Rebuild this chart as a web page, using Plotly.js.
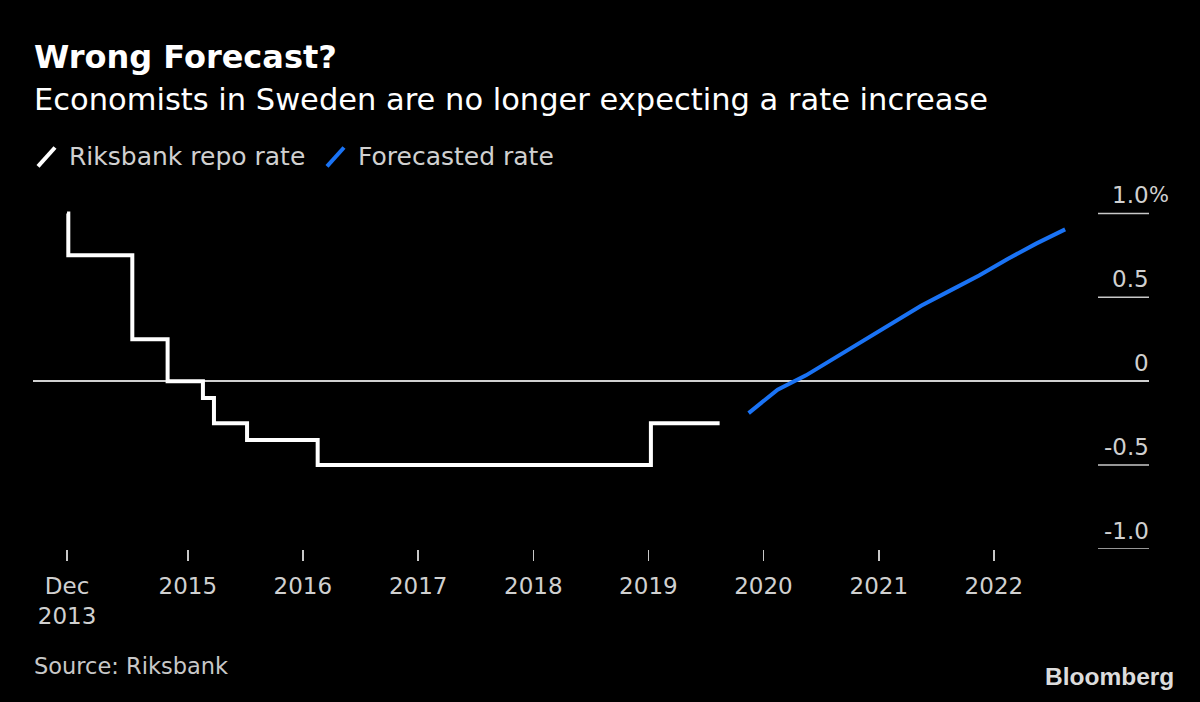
<!DOCTYPE html>
<html><head><meta charset="utf-8">
<script src="https://cdn.plot.ly/plotly-3.0.1.min.js"></script>
<style>html,body{margin:0;padding:0;background:#000;}</style>
</head><body><div id="chart" style="width:1200px;height:702px;"></div>
<script>
// ---- data ----
const repoDates = ['2013-12-14','2013-12-18','2014-07-09','2014-10-29','2015-02-18','2015-03-25','2015-07-08','2016-02-17','2019-01-09','2019-08-15'];
const repoRates = [1.0, 0.75, 0.25, 0.0, -0.10, -0.25, -0.35, -0.50, -0.25, -0.25];
const forecastDates = ['2019-11-15','2020-02-15','2020-05-15','2020-08-15','2020-11-15','2021-02-15','2021-05-15','2021-08-15','2021-11-15','2022-02-15','2022-05-15','2022-08-15'];
const forecastRates = [-0.19, -0.05, 0.035, 0.14, 0.245, 0.35, 0.45, 0.54, 0.63, 0.73, 0.82, 0.905];
const xTickVals = ['2013-12-14','2015-01-01','2016-01-01','2017-01-01','2018-01-01','2019-01-01','2020-01-01','2021-01-01','2022-01-01'];
const xTickText = ['Dec<br>2013','2015','2016','2017','2018','2019','2020','2021','2022'];
const yTickVals = [1.0, 0.5, 0, -0.5, -1.0];
const yTickText = ['1.0', '0.5', '0', '-0.5', '-1.0'];
const seriesNames = ['Riksbank repo rate', 'Forecasted rate'];
const seriesColors = ['#ffffff', '#1a73f5'];

// ---- layout helpers (pixel -> paper) ----
const W = 1200, H = 702;
const L = 33, R = 1149, T = 199.6, B = 549;
const px = X => (X - L) / (R - L);
const py = Y => (B - Y) / (B - T);
const FONT = 'DejaVu Sans, Noto Sans, sans-serif';
const LABEL = '#d0d0d0';

const traces = [
  {x: repoDates, y: repoRates, name: seriesNames[0], type: 'scatter', mode: 'lines',
   line: {color: seriesColors[0], width: 4, shape: 'hv'}, hoverinfo: 'skip'},
  {x: forecastDates, y: forecastRates, name: seriesNames[1], type: 'scatter', mode: 'lines',
   line: {color: seriesColors[1], width: 4}, hoverinfo: 'skip'}
];

const shapes = [];
const annotations = [];
yTickVals.forEach((v, i) => {
  if (v !== 0) {
    shapes.push({type: 'line', xref: 'paper', yref: 'y', x0: px(1098), x1: 1, y0: v, y1: v,
                 line: {color: '#c8c8c8', width: 1.5}});
  }
  annotations.push({xref: 'paper', yref: 'y', x: 1, y: v, xanchor: 'right', yanchor: 'middle',
    yshift: 18, xshift: 1, borderpad: 0, text: yTickText[i], showarrow: false, font: {family: FONT, size: 23, color: LABEL}});
});
annotations.push({xref: 'paper', yref: 'y', x: 1, y: 1.0, xanchor: 'left', yanchor: 'middle',
    yshift: 18, xshift: -1, borderpad: 0, text: '%', showarrow: false, font: {family: FONT, size: 21, color: LABEL}});

// titles
annotations.push({xref: 'paper', yref: 'paper', x: 0, y: py(56), xanchor: 'left', yanchor: 'middle',
  text: '<b>Wrong Forecast?</b>', showarrow: false, borderpad: 0, font: {family: FONT, size: 32, color: '#ffffff'}});
annotations.push({xref: 'paper', yref: 'paper', x: 0, y: py(99), xanchor: 'left', yanchor: 'middle',
  text: 'Economists in Sweden are no longer expecting a rate increase', showarrow: false, borderpad: 0,
  font: {family: FONT, size: 30.5, color: '#ffffff'}});
// legend
annotations.push({xref: 'paper', yref: 'paper', x: px(68), y: py(156), xanchor: 'left', yanchor: 'middle',
  text: seriesNames[0], showarrow: false, borderpad: 0, font: {family: FONT, size: 25, color: LABEL}});
annotations.push({xref: 'paper', yref: 'paper', x: px(357), y: py(156), xanchor: 'left', yanchor: 'middle',
  text: seriesNames[1], showarrow: false, borderpad: 0, font: {family: FONT, size: 25, color: LABEL}});
shapes.push({type: 'line', xref: 'paper', yref: 'paper', x0: px(38), y0: py(166), x1: px(55), y1: py(147),
  line: {color: seriesColors[0], width: 4}});
shapes.push({type: 'line', xref: 'paper', yref: 'paper', x0: px(327), y0: py(166), x1: px(344), y1: py(147),
  line: {color: seriesColors[1], width: 4}});
// footer
annotations.push({xref: 'paper', yref: 'paper', x: 0, y: py(666), xanchor: 'left', yanchor: 'middle',
  text: 'Source: Riksbank', showarrow: false, borderpad: 0, font: {family: FONT, size: 22.5, color: '#c8c8c8'}});
annotations.push({xref: 'paper', yref: 'paper', x: px(1175), y: py(677), xanchor: 'right', yanchor: 'middle',
  text: '<b>Bloomberg</b>', showarrow: false, borderpad: 0, font: {family: 'Liberation Sans, Arial, sans-serif', size: 24.5, color: '#dcdcdc'}});

const layout = {
  width: W, height: H,
  paper_bgcolor: '#000', plot_bgcolor: '#000',
  margin: {l: L, r: W - R, t: T, b: H - B, pad: 0},
  showlegend: false,
  xaxis: {type: 'date', range: ['2013-08-28', '2023-05-08'], tickvals: xTickVals, ticktext: xTickText,
    showgrid: false, zeroline: false, showline: false, ticks: 'outside', ticklen: 11, tickwidth: 1.5,
    tickcolor: '#c8c8c8', ticklabelstandoff: 5, tickfont: {family: FONT, size: 23, color: LABEL}, fixedrange: true},
  yaxis: {range: [-1.0, 1.08], showgrid: false, showticklabels: false, ticks: '', showline: false,
    zeroline: true, zerolinecolor: '#d0d0d0', zerolinewidth: 1.5, fixedrange: true},
  shapes: shapes, annotations: annotations
};
Plotly.newPlot('chart', traces, layout, {displayModeBar: false, staticPlot: true});
</script></body></html>
